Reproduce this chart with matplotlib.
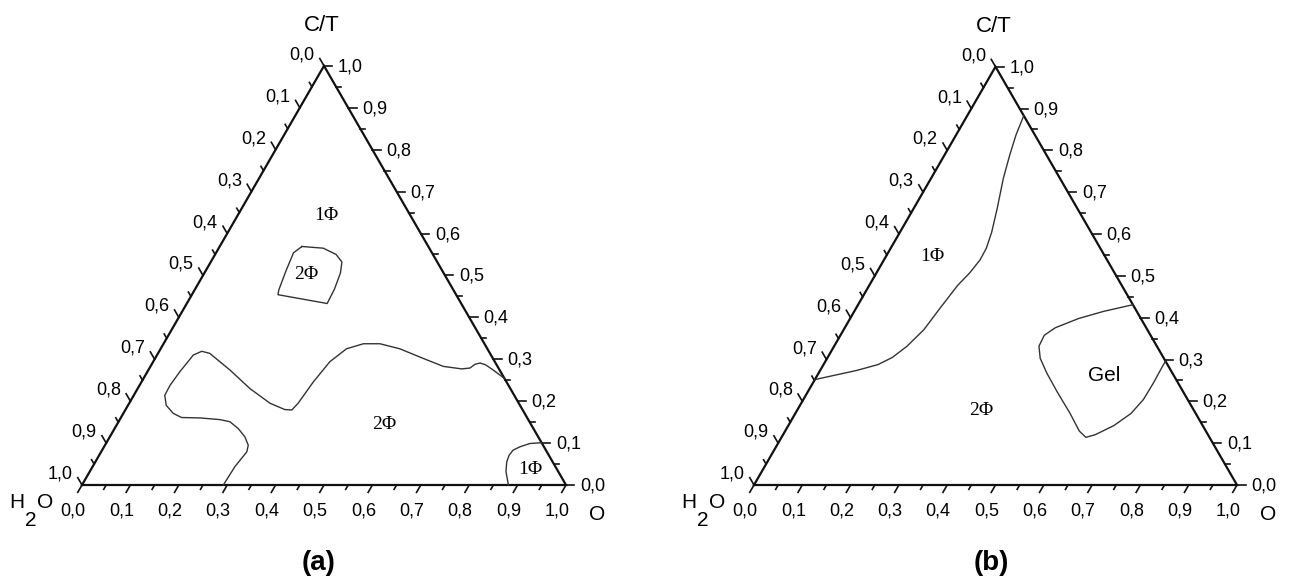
import numpy as np
import matplotlib
matplotlib.use("Agg")
import matplotlib.pyplot as plt

W, H, DPI = 1289, 579, 100

# ---------------- data ----------------
tick_values = [round(i * 0.1, 1) for i in range(11)]
tick_labels = ["0,0", "0,1", "0,2", "0,3", "0,4", "0,5", "0,6", "0,7", "0,8", "0,9", "1,0"]

# Compositions given as (O fraction, C/T fraction); H2O = 1 - O - C/T
# Panel (a): closed 2-phase island
a_island_O = [0.170, 0.216, 0.250, 0.271, 0.281, 0.288, 0.290, 0.178, 0.174, 0.166, 0.160, 0.170]
a_island_CT = [0.569, 0.565, 0.550, 0.532, 0.506, 0.467, 0.433, 0.454, 0.465, 0.511, 0.554, 0.569]

# Panel (a): main 1-phase / 2-phase boundary
a_main_O = [0.292, 0.294, 0.301, 0.296, 0.279, 0.255, 0.230, 0.207, 0.164, 0.125, 0.103, 0.079,
            0.064, 0.063, 0.067, 0.075, 0.088, 0.107, 0.169, 0.232, 0.291, 0.329, 0.344, 0.349,
            0.355, 0.365, 0.384, 0.413, 0.447, 0.494, 0.554, 0.605, 0.646, 0.662, 0.668, 0.677,
            0.690, 0.713, 0.746]
a_main_CT = [0.000, 0.044, 0.079, 0.095, 0.115, 0.135, 0.151, 0.156, 0.160, 0.161, 0.171, 0.190,
             0.214, 0.238, 0.270, 0.310, 0.319, 0.314, 0.274, 0.230, 0.195, 0.180, 0.179, 0.195,
             0.246, 0.294, 0.325, 0.337, 0.337, 0.325, 0.302, 0.283, 0.277, 0.279, 0.288, 0.291,
             0.287, 0.274, 0.254]

# Panel (a): small 1-phase region near the O corner
a_corner_O = [0.899, 0.876, 0.859, 0.849, 0.847, 0.850, 0.860, 0.881]
a_corner_CT = [0.101, 0.099, 0.091, 0.083, 0.071, 0.055, 0.032, 0.000]

# Panel (b): 1-phase boundary
b_one_O = [0.000, 0.031, 0.076, 0.113, 0.134, 0.151, 0.166, 0.174, 0.183, 0.193, 0.199, 0.198,
           0.190, 0.173, 0.150, 0.135, 0.124, 0.117]
b_one_CT = [0.252, 0.261, 0.274, 0.288, 0.305, 0.332, 0.371, 0.424, 0.477, 0.507, 0.538, 0.566,
            0.604, 0.661, 0.732, 0.789, 0.837, 0.883]

# Panel (b): gel region boundary
b_gel_O = [0.569, 0.516, 0.473, 0.436, 0.422, 0.424, 0.441, 0.473, 0.517, 0.569, 0.609, 0.630,
           0.646, 0.674, 0.695, 0.704, 0.705, 0.704, 0.704]
b_gel_CT = [0.431, 0.415, 0.398, 0.376, 0.358, 0.332, 0.303, 0.267, 0.222, 0.171, 0.129, 0.114,
            0.120, 0.142, 0.171, 0.204, 0.244, 0.279, 0.296]

SQ3 = np.sqrt(3) / 2


def tern(O, CT):
    O = np.asarray(O, dtype=float)
    CT = np.asarray(CT, dtype=float)
    return O + CT / 2.0, CT * SQ3


plt.rcParams["font.family"] = ["Liberation Sans", "DejaVu Sans"]
fig = plt.figure(figsize=(W / DPI, H / DPI), dpi=DPI)
fig.patch.set_facecolor("white")

EDGE = "#111111"
CURVE = "#333333"
TICK_FS = 13
TITLE_FS = 16
PHASE_FONT = ["Liberation Serif", "DejaVu Serif"]
PHASE_FS = 14


def make_ax(x0, y0, S):
    xmin, xmax = -0.2, 1.2
    ymin, ymax = -0.26, 1.06
    left = (x0 + xmin * S) / W
    bottom = (H - y0 + ymin * S) / H
    ax = fig.add_axes([left, bottom, (xmax - xmin) * S / W, (ymax - ymin) * S / H])
    ax.set_xlim(xmin, xmax)
    ax.set_ylim(ymin, ymax)
    ax.axis("off")
    ax.patch.set_visible(False)
    return ax


def label(ax, xy, text, dx, dy, **kw):
    ax.annotate(text, xy=xy, xytext=(dx, dy), textcoords="offset pixels",
                ha=kw.pop("ha", "center"), va=kw.pop("va", "center"), **kw)


def draw_frame(ax, S):
    xs, ys = tern([0, 1, 0, 0], [0, 0, 1, 0])
    ax.plot(xs, ys, color=EDGE, lw=1.6, solid_joinstyle="miter", solid_capstyle="projecting")
    for i in range(21):
        v = i * 0.05
        L = (8.5 if i % 2 == 0 else 5.0) / S
        # bottom axis (O)
        px, py = tern(v, 0)
        ax.plot([px, px - 0.5 * L], [py, py - SQ3 * L], color=EDGE, lw=1.2)
        # left axis (H2O)
        px, py = tern(0, 1 - v)
        ax.plot([px, px - 0.5 * L], [py, py + SQ3 * L], color=EDGE, lw=1.2)
        # right axis (C/T)
        px, py = tern(1 - v, v)
        ax.plot([px, px + L], [py, py], color=EDGE, lw=1.2)
    for v, t in zip(tick_values, tick_labels):
        label(ax, tuple(tern(v, 0)), t, -9, -26, fontsize=TICK_FS)
        label(ax, tuple(tern(0, 1 - v)), t, -22, 11, fontsize=TICK_FS)
        label(ax, tuple(tern(1 - v, v)), t, 14, -1, fontsize=TICK_FS, ha="left")
    # corner titles
    label(ax, tuple(tern(0, 1)), "C/T", -2, 40, fontsize=TITLE_FS)
    bl = tuple(tern(0, 0))
    label(ax, bl, "H", -65, -18, fontsize=TITLE_FS - 1)
    label(ax, bl, "2", -51, -35, fontsize=TITLE_FS - 1)
    label(ax, bl, "O", -37, -18, fontsize=TITLE_FS - 1)
    label(ax, tuple(tern(1, 0)), "O", 31, -30, fontsize=TITLE_FS - 1)


# ---------------- panel (a) ----------------
Sa = 484.0
axa = make_ax(82, 485, Sa)
draw_frame(axa, Sa)
axa.plot(*tern(a_island_O, a_island_CT), color=CURVE, lw=1.0)
axa.plot(*tern(a_main_O, a_main_CT), color=CURVE, lw=1.0)
axa.plot(*tern(a_corner_O, a_corner_CT), color=CURVE, lw=1.0)
axa.text(0.504, 0.556, "1Φ", family=PHASE_FONT, fontsize=PHASE_FS, ha="center", va="center")
axa.text(0.464, 0.435, "2Φ", family=PHASE_FONT, fontsize=PHASE_FS, ha="center", va="center")
axa.text(0.624, 0.124, "2Φ", family=PHASE_FONT, fontsize=PHASE_FS, ha="center", va="center")
axa.text(0.927, 0.033, "1Φ", family=PHASE_FONT, fontsize=PHASE_FS, ha="center", va="center")
label(axa, tuple(tern(0.5, 0)), "(a)", -5, -78, fontsize=20, fontweight="bold")

# ---------------- panel (b) ----------------
Sb = 483.0
axb = make_ax(754, 485, Sb)
draw_frame(axb, Sb)
axb.plot(*tern(b_one_O, b_one_CT), color=CURVE, lw=1.0)
axb.plot(*tern(b_gel_O, b_gel_CT), color=CURVE, lw=1.0)
axb.text(0.369, 0.474, "1Φ", family=PHASE_FONT, fontsize=PHASE_FS, ha="center", va="center")
axb.text(0.471, 0.155, "2Φ", family=PHASE_FONT, fontsize=PHASE_FS, ha="center", va="center")
axb.text(0.725, 0.226, "Gel", fontsize=15, ha="center", va="center")
label(axb, tuple(tern(0.5, 0)), "(b)", -4, -78, fontsize=20, fontweight="bold")

fig.savefig("out.png", dpi=DPI, facecolor="white")
